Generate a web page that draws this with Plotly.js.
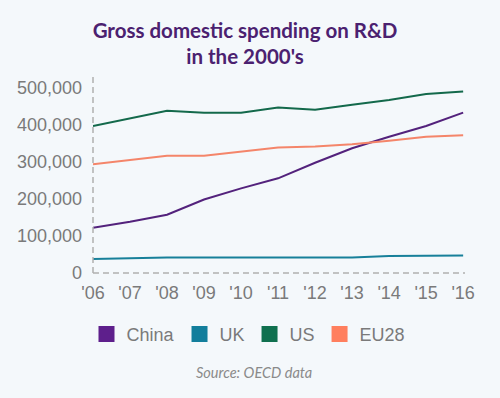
<!DOCTYPE html>
<html>
<head>
<meta charset="utf-8">
<script src="https://cdn.plot.ly/plotly-3.0.1.min.js"></script>
<style>
html,body{margin:0;padding:0;background:#f4f8fb;}
#chart{width:500px;height:398px;}
</style>
</head>
<body>
<div id="chart"></div>
<script>
var years = [2006, 2007, 2008, 2009, 2010, 2011, 2012, 2013, 2014, 2015, 2016];
var tickLabels = ["'06","'07","'08","'09","'10","'11","'12","'13","'14","'15","'16"];
var china = [122000, 138000, 157000, 198000, 228000, 255000, 297000, 336000, 367000, 396000, 432000];
var uk    = [38000, 41000, 42000, 42000, 42000, 42000, 42000, 42000, 46000, 47000, 47000];
var us    = [396000, 416000, 437000, 432000, 432000, 446000, 440000, 453000, 466000, 482000, 489000];
var eu28  = [293000, 304000, 316000, 316000, 327000, 338000, 341000, 347000, 356000, 367000, 371000];
var yTicks = [0, 100000, 200000, 300000, 400000, 500000];

var names = ['China', 'UK', 'US', 'EU28'];
var series = [china, uk, us, eu28];
var lineColors = ['#53227c', '#17809a', '#13694b', '#f4856a'];
var legendColors = ['#5e1f8c', '#127e9c', '#0f704f', '#ff7f5e'];

var data = [];
for (var i = 0; i < names.length; i++) {
  data.push({
    x: years, y: series[i], type: 'scatter', mode: 'lines',
    name: names[i], showlegend: false, legendgroup: names[i],
    line: {color: lineColors[i], width: 2}
  });
}
for (var j = 0; j < names.length; j++) {
  data.push({
    x: [null], y: [null], type: 'scatter', mode: 'markers',
    name: names[j], legendgroup: names[j], showlegend: true,
    marker: {symbol: 'square', size: 17, color: legendColors[j]}
  });
}

var layout = {
  width: 500, height: 398,
  paper_bgcolor: '#f4f8fb', plot_bgcolor: '#f4f8fb',
  margin: {l: 93, r: 35, t: 77, b: 125},
  title: {
    text: "Gross domestic spending on R&D<br>in the 2000's",
    font: {family: 'Lato', size: 20.5, color: '#4b2170', weight: 'bold'},
    xref: 'container', x: 0.49, xanchor: 'center',
    yref: 'container', y: 0.905, yanchor: 'top'
  },
  xaxis: {
    range: [2006, 2016.05],
    tickvals: years, ticktext: tickLabels,
    showgrid: false, zeroline: false, showline: false,
    ticks: '', ticklabelstandoff: 7,
    tickfont: {family: 'Liberation Sans, Arial', size: 18, color: '#7a7a7a'},
    fixedrange: true
  },
  yaxis: {
    range: [0, 528000],
    tickvals: yTicks, tickformat: ',',
    showgrid: false, zeroline: false, showline: false,
    ticks: '', ticklabelstandoff: 10,
    tickfont: {family: 'Liberation Sans, Arial', size: 18, color: '#7a7a7a'},
    fixedrange: true
  },
  shapes: [
    {type: 'line', xref: 'paper', yref: 'paper', x0: 0, x1: 0, y0: 0, y1: 1,
     line: {color: '#b0b0b0', width: 1.5, dash: '6px,4px'}},
    {type: 'line', xref: 'paper', yref: 'paper', x0: 0, x1: 1, y0: 0, y1: 0,
     line: {color: '#b0b0b0', width: 1.5, dash: '6px,4px'}}
  ],
  legend: {
    orientation: 'h',
    xref: 'container', x: 0.497, xanchor: 'center',
    yref: 'container', y: 0.16, yanchor: 'middle',
    font: {family: 'Liberation Sans, Arial', size: 18, color: '#7a7a7a'},
    bgcolor: 'rgba(0,0,0,0)', itemclick: false, itemdoubleclick: false
  },
  annotations: [{
    text: 'Source: OECD data', showarrow: false,
    xref: 'paper', yref: 'paper', x: 0.433, y: -0.51,
    xanchor: 'center', yanchor: 'middle',
    font: {family: 'Lato', size: 14.5, color: '#8a8a8a', style: 'italic'}
  }],
  showlegend: true
};

Plotly.newPlot('chart', data, layout, {displayModeBar: false, staticPlot: true});
</script>
</body>
</html>
